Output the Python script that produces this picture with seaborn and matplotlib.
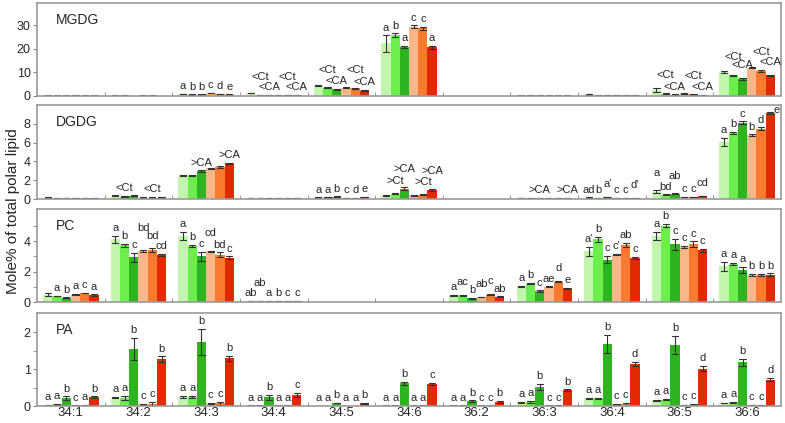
import numpy as np
import pandas as pd
import matplotlib
matplotlib.use('Agg')
import matplotlib.pyplot as plt
import seaborn as sns

nan = np.nan
species = ['34:1', '34:2', '34:3', '34:4', '34:5', '34:6', '36:2', '36:3', '36:4', '36:5', '36:6']
lines = ['G1', 'G2', 'G3', 'O1', 'O2', 'O3']
colors = ['#c2f5ad', '#6cee4c', '#2db41e', '#f9b68b', '#fa7a30', '#e22a00']

# MGDG
mgdg_mean = [[0.25, 0.2, 0.2, 0.25, 0.2, 0.2],
             [0.2, 0.2, 0.15, 0.2, 0.2, 0.15],
             [0.8, 0.6, 0.6, 1.3, 0.8, 0.6],
             [1.2, 0.5, 0.5, 0.5, 0.5, 0.5],
             [4.3, 3.5, 2.8, 3.6, 3.2, 2.3],
             [22.3, 25.8, 20.9, 29.4, 28.7, 20.6],
             [nan] * 6,
             [0.2, 0.2, 0.2, 0.2, 0.2, 0.2],
             [0.6, 0.3, 0.3, 0.3, 0.3, 0.3],
             [2.4, 1.0, 0.6, 1.2, 0.8, 0.5],
             [10.2, 8.8, 7.2, 12.0, 10.7, 8.8]]
mgdg_err = [[0.05] * 6,
            [0.05] * 6,
            [0.1, 0.05, 0.05, 0.1, 0.05, 0.05],
            [0.1, 0.05, 0.05, 0.05, 0.05, 0.05],
            [0.2, 0.15, 0.15, 0.2, 0.15, 0.15],
            [3.4, 0.8, 0.5, 0.6, 0.6, 0.8],
            [0] * 6,
            [0.05] * 6,
            [0.1, 0.05, 0.05, 0.05, 0.05, 0.05],
            [0.8, 0.2, 0.1, 0.2, 0.2, 0.1],
            [0.3, 0.3, 0.4, 0.3, 0.3, 0.3]]
mgdg_lab = [[''] * 6,
            [''] * 6,
            ['a', 'b', 'b', 'c', 'd', 'e'],
            ['', '^^<Ct', '<CA', '', '^^<Ct', '<CA'],
            ['', '^^<Ct', '<CA', '', '^^<Ct', '<CA'],
            ['a', 'b', 'a', 'c', 'c', 'a'],
            [''] * 6,
            [''] * 6,
            [''] * 6,
            ['', '^^<Ct', '<CA', '', '^^<Ct', '<CA'],
            ['', '^^<Ct', '^<CA', '', '^^<Ct', '^<CA']]

# DGDG
dgdg_mean = [[0.15, 0.1, 0.1, 0.1, 0.1, 0.1],
             [0.35, 0.25, 0.35, 0.15, 0.15, 0.15],
             [2.5, 2.5, 2.95, 3.25, 3.4, 3.8],
             [0.1, 0.1, 0.1, 0.1, 0.1, 0.1],
             [0.15, 0.15, 0.25, 0.1, 0.1, 0.2],
             [0.42, 0.55, 1.1, 0.4, 0.45, 1.0],
             [nan] * 6,
             [0.12, 0.12, 0.12, 0.12, 0.12, 0.12],
             [0.15, 0.1, 0.2, 0.08, 0.08, 0.1],
             [0.77, 0.45, 0.55, 0.2, 0.2, 0.3],
             [6.06, 7.05, 8.1, 6.77, 7.48, 9.13]]
dgdg_err = [[0.03] * 6,
            [0.05] * 6,
            [0.1, 0.1, 0.1, 0.05, 0.08, 0.05],
            [0.02] * 6,
            [0.02] * 6,
            [0.05, 0.05, 0.15, 0.03, 0.05, 0.1],
            [0] * 6,
            [0.02] * 6,
            [0.02] * 6,
            [0.15, 0.03, 0.05, 0.02, 0.02, 0.03],
            [0.4, 0.1, 0.15, 0.1, 0.15, 0.1]]
dgdg_lab = [[''] * 6,
            ['', '<Ct', '', '', '<Ct', ''],
            ['', '', '>CA', '', '', '>CA'],
            [''] * 6,
            ['a', 'a', 'b', 'c', 'd', 'e'],
            ['', '^>Ct', '^^>CA', '', '^>Ct', '^^>CA'],
            [''] * 6,
            ['', '', '>CA', '', '', '>CA'],
            ['ad', 'b', "^a'", 'c', 'c', "^d'"],
            ['^^a', 'bd', '^^ab', 'c', 'c', '^cd'],
            ['a', 'b', 'c', 'b', 'd', '}e']]

# PC
pc_mean = [[0.49, 0.4, 0.27, 0.49, 0.6, 0.45],
           [4.11, 3.73, 2.93, 3.33, 3.4, 3.07],
           [4.33, 3.67, 3.0, 3.33, 3.1, 2.89],
           [0.08, 0.08, 0.08, 0.08, 0.08, 0.08],
           [nan] * 6,
           [nan] * 6,
           [0.45, 0.43, 0.25, 0.33, 0.49, 0.35],
           [1.03, 1.2, 0.71, 1.0, 1.33, 0.89],
           [3.33, 4.1, 2.78, 3.11, 3.73, 2.89],
           [4.33, 5.0, 3.78, 3.6, 3.78, 3.38],
           [2.33, 2.49, 2.11, 1.78, 1.78, 1.78]]
pc_err = [[0.1, 0.02, 0.03, 0.02, 0.02, 0.05],
          [0.25, 0.1, 0.3, 0.05, 0.12, 0.08],
          [0.25, 0.08, 0.3, 0.03, 0.15, 0.1],
          [0.01] * 6,
          [0] * 6,
          [0] * 6,
          [0.03, 0.02, 0.03, 0.01, 0.03, 0.02],
          [0.05, 0.05, 0.05, 0.02, 0.03, 0.05],
          [0.3, 0.15, 0.25, 0.05, 0.15, 0.08],
          [0.25, 0.1, 0.35, 0.08, 0.2, 0.08],
          [0.3, 0.05, 0.2, 0.08, 0.08, 0.1]]
pc_lab = [['', 'a', 'b', 'a', 'c', 'a'],
          ['a', 'b', 'c', '^^^bd', '^bd', 'cd'],
          ['a', 'b', 'c', '^^cd', 'bd', 'c'],
          ['ab', '^^ab', 'a', 'b', 'c', 'c'],
          [''] * 6,
          [''] * 6,
          ['a', '^ac', 'b', '^ab', '^c', 'ab'],
          ['a', 'b', 'c', 'ae', '^d', 'e'],
          ["a'", 'b', 'c', "c'", 'ab', 'c'],
          ['a', 'b', 'c', 'c', 'c', 'c'],
          ['a', 'a', 'a', 'b', 'b', 'b']]

# PA
pa_mean = [[0.03, 0.05, 0.21, 0.01, 0.03, 0.24],
           [0.23, 0.22, 1.56, 0.05, 0.06, 1.28],
           [0.25, 0.24, 1.74, 0.07, 0.07, 1.3],
           [0.01, 0.01, 0.24, 0.01, 0.01, 0.3],
           [0.005, 0.005, 0.08, 0.005, 0.005, 0.07],
           [0.01, 0.01, 0.62, 0.01, 0.01, 0.59],
           [0.01, 0.01, 0.13, 0.01, 0.01, 0.1],
           [0.1, 0.1, 0.52, 0.01, 0.01, 0.43],
           [0.21, 0.21, 1.69, 0.05, 0.05, 1.15],
           [0.15, 0.17, 1.66, 0.02, 0.03, 1.02],
           [0.08, 0.1, 1.19, 0.02, 0.02, 0.72]]
pa_err = [[0.01, 0.01, 0.05, 0.005, 0.01, 0.02],
          [0.02, 0.05, 0.3, 0.01, 0.05, 0.07],
          [0.02, 0.03, 0.35, 0.01, 0.04, 0.07],
          [0.005, 0.005, 0.07, 0.005, 0.005, 0.05],
          [0.005, 0.005, 0.01, 0.005, 0.005, 0.01],
          [0.005, 0.005, 0.04, 0.005, 0.005, 0.03],
          [0.005, 0.005, 0.02, 0.005, 0.005, 0.03],
          [0.02, 0.03, 0.08, 0.005, 0.005, 0.02],
          [0.02, 0.02, 0.25, 0.01, 0.04, 0.05],
          [0.01, 0.02, 0.25, 0.005, 0.02, 0.07],
          [0.01, 0.01, 0.1, 0.005, 0.005, 0.05]]
pa_lab = [['a', 'a', 'b', 'c', 'a', 'b'],
          ['a', 'a', 'b', 'c', 'c', 'b'],
          ['a', 'a', 'b', 'c', 'c', 'b'],
          ['a', 'a', 'b', 'a', 'a', 'c'],
          ['a', 'a', 'b', 'a', 'a', 'b'],
          ['a', 'a', 'b', 'a', 'a', 'c'],
          ['a', 'a', 'b', 'c', 'c', 'b'],
          ['a', 'a', 'b', 'c', 'c', 'b'],
          ['a', 'a', 'b', 'c', 'c', 'd'],
          ['a', 'a', 'b', 'c', 'c', 'd'],
          ['a', 'a', 'b', 'c', 'c', 'd']]

panels = [('MGDG', mgdg_mean, mgdg_err, mgdg_lab, 39.5, [0, 10, 20, 30], []),
          ('DGDG', dgdg_mean, dgdg_err, dgdg_lab, 10, [0, 2, 4, 6, 8], []),
          ('PC', pc_mean, pc_err, pc_lab, 6.1, [0, 2, 4], [1, 3, 5]),
          ('PA', pa_mean, pa_err, pa_lab, 2.53, [0, 1, 2], [0.5, 1.5])]


def long_form(means, errs):
    # two points per bar so that the min-max interval is mean +/- err
    rows = []
    for s, m_row, e_row in zip(species, means, errs):
        for l, m, e in zip(lines, m_row, e_row):
            if np.isnan(m):
                continue
            rows.append((s, l, m - e))
            rows.append((s, l, m + e))
    return pd.DataFrame(rows, columns=['species', 'line', 'mol'])


sns.set_style('ticks')
plt.rcParams['font.family'] = ['Liberation Sans', 'DejaVu Sans']

fig = plt.figure(figsize=(7.85, 4.23), dpi=100)
tops = [3, 105, 209, 313]
bottoms = [96, 199, 302, 406]
W = 0.82

for k, (name, means, errs, labs, ymax, yt, ymt) in enumerate(panels):
    ax = fig.add_axes([37 / 785, 1 - bottoms[k] / 423, 744 / 785, (bottoms[k] - tops[k]) / 423])
    df = long_form(means, errs)
    sns.barplot(data=df, x='species', y='mol', hue='line', order=species, hue_order=lines,
                palette=colors, saturation=1, width=W, errorbar=('pi', 100), capsize=0.55,
                err_kws={'color': '#333333', 'linewidth': 0.8}, linewidth=0,
                legend=False, ax=ax)
    ax.set_xlim(-0.5, 10.5)
    ax.set_ylim(0, ymax)
    ax.set_xlabel('')
    ax.set_ylabel('')
    ax.set_yticks(yt)
    ax.set_yticks(ymt, minor=True)
    ax.set_xticks(np.arange(0.5, 10, 1), minor=True)
    ax.tick_params(axis='y', which='both', direction='out', length=3, color='#888888',
                   labelsize=9, pad=1.5)
    ax.tick_params(axis='x', which='minor', direction='in', length=3, color='#888888')
    ax.tick_params(axis='x', which='major', length=0, labelsize=9.5, pad=1)
    if k < 3:
        ax.set_xticklabels([])
    for sp in ax.spines.values():
        sp.set_color('#9a9a9a')
        sp.set_linewidth(1.2)
    ax.text(0.025, 0.82, name, transform=ax.transAxes, fontsize=10, va='center', ha='left')

    bw = W / len(lines)
    for cont in ax.containers:
        for bar in cont:
            x = bar.get_x() + bar.get_width() / 2
            si = int(round(x))
            hi = int((x - si + W / 2) // bw)
            lab = labs[si][hi]
            if not lab:
                continue
            lift = lab.count('^')
            side = '}' in lab
            text = lab.replace('^', '').replace('}', '')
            top = means[si][hi] + errs[si][hi]
            ax.annotate(text, (x, top), xytext=(4.5 if side else 0, -2 if side else 2 + 3.6 * lift),
                        textcoords='offset points', ha='center', va='bottom', fontsize=8,
                        annotation_clip=False)

fig.text(0.016, 0.5, 'Mole% of total polar lipid', rotation=90, va='center', ha='center', fontsize=11)
fig.savefig('out.png', dpi=100)
